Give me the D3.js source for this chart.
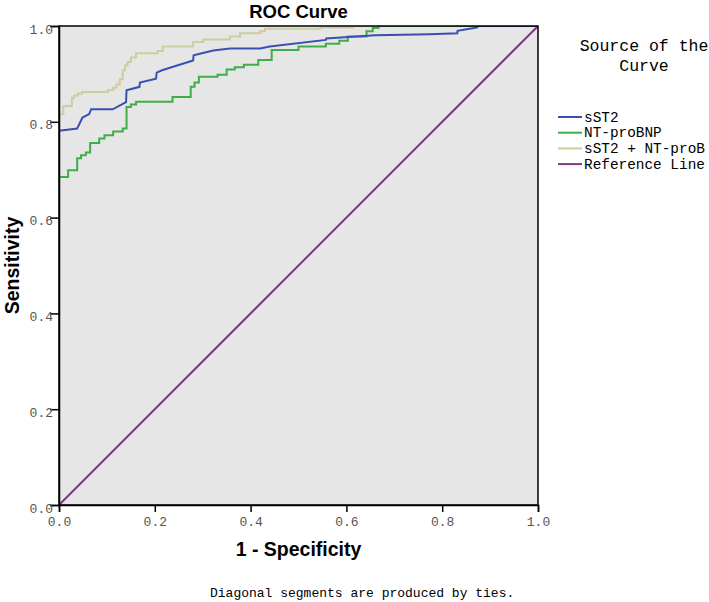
<!DOCTYPE html>
<html>
<head>
<meta charset="utf-8">
<script src="https://cdn.jsdelivr.net/npm/d3@7"></script>
<style>
  html, body { margin: 0; padding: 0; background: #ffffff; }
  svg { display: block; }
</style>
</head>
<body>
<svg id="chart" width="709" height="602"></svg>
<script>
// ---------- data ----------
const seriesNames = ["sST2", "NT-proBNP", "sST2 + NT-proB", "Reference Line"];
const xTicks = [0, 0.2, 0.4, 0.6, 0.8, 1.0];
const yTicks = [0, 0.2, 0.4, 0.6, 0.8, 1.0];

const sst2Fpr = [0, 0.038, 0.049, 0.063, 0.067, 0.112, 0.140, 0.141, 0.168, 0.169, 0.2025, 0.204, 0.215, 0.280, 0.281, 0.322, 0.357, 0.420, 0.440, 0.557, 0.558, 0.660, 0.7745, 0.8316, 0.832, 0.872, 0.877, 1.0];
const sst2Tpr = [0.7815, 0.786, 0.809, 0.816, 0.826, 0.826, 0.841, 0.866, 0.873, 0.882, 0.890, 0.9026, 0.9075, 0.928, 0.939, 0.949, 0.953, 0.953, 0.957, 0.971, 0.974, 0.9805, 0.983, 0.9847, 0.990, 0.997, 1.0, 1.0];

const ntFpr = [0, 0.019, 0.019, 0.038, 0.038, 0.046, 0.046, 0.056, 0.056, 0.065, 0.065, 0.084, 0.084, 0.095, 0.095, 0.113, 0.113, 0.133, 0.133, 0.141, 0.141, 0.150, 0.150, 0.161, 0.161, 0.237, 0.237, 0.275, 0.275, 0.283, 0.283, 0.292, 0.292, 0.331, 0.331, 0.350, 0.350, 0.367, 0.367, 0.386, 0.386, 0.416, 0.416, 0.444, 0.444, 0.500, 0.500, 0.557, 0.557, 0.585, 0.585, 0.603, 0.603, 0.642, 0.642, 0.655, 0.655, 0.667, 0.667, 1.0];
const ntTpr = [0.685, 0.685, 0.699, 0.699, 0.724, 0.724, 0.730, 0.730, 0.736, 0.736, 0.756, 0.756, 0.765, 0.765, 0.772, 0.772, 0.780, 0.780, 0.786, 0.786, 0.831, 0.831, 0.836, 0.836, 0.842, 0.842, 0.852, 0.852, 0.873, 0.873, 0.882, 0.882, 0.894, 0.894, 0.898, 0.898, 0.909, 0.909, 0.914, 0.914, 0.919, 0.919, 0.929, 0.929, 0.950, 0.950, 0.957, 0.957, 0.963, 0.963, 0.969, 0.969, 0.978, 0.978, 0.989, 0.989, 0.996, 0.996, 1.0, 1.0];

const comboFpr = [0, 0.009, 0.009, 0.027, 0.027, 0.032, 0.032, 0.039, 0.039, 0.048, 0.048, 0.102, 0.102, 0.113, 0.113, 0.120, 0.120, 0.127, 0.127, 0.133, 0.133, 0.138, 0.138, 0.143, 0.143, 0.150, 0.150, 0.161, 0.161, 0.206, 0.206, 0.2165, 0.2165, 0.280, 0.280, 0.301, 0.301, 0.357, 0.357, 0.378, 0.378, 0.420, 0.420, 0.430, 0.430, 0.545, 0.545, 0.614, 0.614, 1.0];
const comboTpr = [0.8156, 0.8156, 0.833, 0.833, 0.850, 0.850, 0.855, 0.855, 0.859, 0.859, 0.862, 0.862, 0.866, 0.866, 0.871, 0.871, 0.878, 0.878, 0.889, 0.889, 0.9075, 0.9075, 0.918, 0.918, 0.925, 0.925, 0.934, 0.934, 0.943, 0.943, 0.948, 0.948, 0.957, 0.957, 0.9666, 0.9666, 0.972, 0.972, 0.978, 0.978, 0.985, 0.985, 0.989, 0.989, 0.994, 0.994, 0.997, 0.997, 1.0, 1.0];

const refFpr = [0, 1];
const refTpr = [0, 1];

const seriesColors = ["#3a4fb0", "#3fae4a", "#cdcd9f", "#7d3a80"];

// ---------- layout ----------
const svg = d3.select("#chart");
const plot = { left: 59, right: 538, top: 26, bottom: 505 };

const x = d3.scaleLinear().domain([0, 1]).range([plot.left, plot.right]);
const y = d3.scaleLinear().domain([0, 1]).range([plot.bottom, plot.top]);

const monoFont = "'Liberation Mono', 'Courier New', monospace";
const sansFont = "'Liberation Sans', Arial, Helvetica, sans-serif";

// plot background
svg.append("rect")
  .attr("x", plot.left).attr("y", plot.top)
  .attr("width", plot.right - plot.left).attr("height", plot.bottom - plot.top)
  .attr("fill", "#e6e6e6");

svg.append("defs").append("clipPath").attr("id", "clip")
  .append("rect")
  .attr("x", plot.left).attr("y", plot.top)
  .attr("width", plot.right - plot.left).attr("height", plot.bottom - plot.top);

const seriesData = [
  d3.zip(sst2Fpr, sst2Tpr),
  d3.zip(ntFpr, ntTpr),
  d3.zip(comboFpr, comboTpr),
  d3.zip(refFpr, refTpr)
];

const line = d3.line().x(d => x(d[0])).y(d => y(d[1]));

const g = svg.append("g").attr("clip-path", "url(#clip)");
// draw order: reference, combo, NT, sST2
[3, 2, 1, 0].forEach(i => {
  g.append("path")
    .datum(seriesData[i])
    .attr("d", line)
    .attr("fill", "none")
    .attr("stroke", seriesColors[i])
    .attr("stroke-width", 2)
    .attr("stroke-linejoin", "miter");
});

// frame
svg.append("rect")
  .attr("x", plot.left).attr("y", plot.top)
  .attr("width", plot.right - plot.left).attr("height", plot.bottom - plot.top)
  .attr("fill", "none").attr("stroke", "#000").attr("stroke-width", 1.5);

// axes
const fmt = d3.format(".1f");
const xAxis = svg.append("g")
  .attr("transform", `translate(0,${plot.bottom})`)
  .call(d3.axisBottom(x).tickValues(xTicks).tickFormat(fmt).tickSize(7).tickPadding(5));
const yAxis = svg.append("g")
  .attr("transform", `translate(${plot.left},0)`)
  .call(d3.axisLeft(y).tickValues(yTicks).tickFormat(fmt).tickSize(9).tickPadding(-3));

[xAxis, yAxis].forEach(ax => {
  ax.select(".domain").attr("stroke", "#000").attr("stroke-width", 1.5);
  ax.selectAll(".tick line").attr("stroke", "#000").attr("stroke-width", 1.5);
  ax.selectAll(".tick text")
    .attr("font-family", monoFont).attr("font-size", 13).attr("fill", "#555");
});
yAxis.selectAll(".tick text").attr("dy", "0.55em");

// titles
svg.append("text")
  .attr("x", (plot.left + plot.right) / 2).attr("y", 18)
  .attr("text-anchor", "middle")
  .attr("font-family", sansFont).attr("font-weight", "bold").attr("font-size", 18.5)
  .attr("fill", "#000")
  .text("ROC Curve");

svg.append("text")
  .attr("x", (plot.left + plot.right) / 2).attr("y", 556)
  .attr("text-anchor", "middle")
  .attr("font-family", sansFont).attr("font-weight", "bold").attr("font-size", 19.5)
  .attr("fill", "#000")
  .text("1 - Specificity");

svg.append("text")
  .attr("transform", `translate(19,${(plot.top + plot.bottom) / 2}) rotate(-90)`)
  .attr("text-anchor", "middle")
  .attr("font-family", sansFont).attr("font-weight", "bold").attr("font-size", 19.5)
  .attr("fill", "#000")
  .text("Sensitivity");

svg.append("text")
  .attr("x", 210).attr("y", 597)
  .attr("font-family", monoFont).attr("font-size", 13)
  .attr("fill", "#000")
  .text("Diagonal segments are produced by ties.");

// legend
const legend = svg.append("g");
["Source of the", "Curve"].forEach((t, i) => {
  legend.append("text")
    .attr("x", 644).attr("y", 51 + i * 20)
    .attr("text-anchor", "middle")
    .attr("font-family", monoFont).attr("font-size", 16.5)
    .attr("fill", "#000")
    .text(t);
});
seriesNames.forEach((name, i) => {
  const yy = 117 + i * 15.7;
  legend.append("line")
    .attr("x1", 558).attr("x2", 582)
    .attr("y1", yy).attr("y2", yy)
    .attr("stroke", seriesColors[i]).attr("stroke-width", 2);
  legend.append("text")
    .attr("x", 584).attr("y", yy + 4.5)
    .attr("font-family", monoFont).attr("font-size", 14.4)
    .attr("fill", "#000")
    .text(name);
});
</script>
</body>
</html>
